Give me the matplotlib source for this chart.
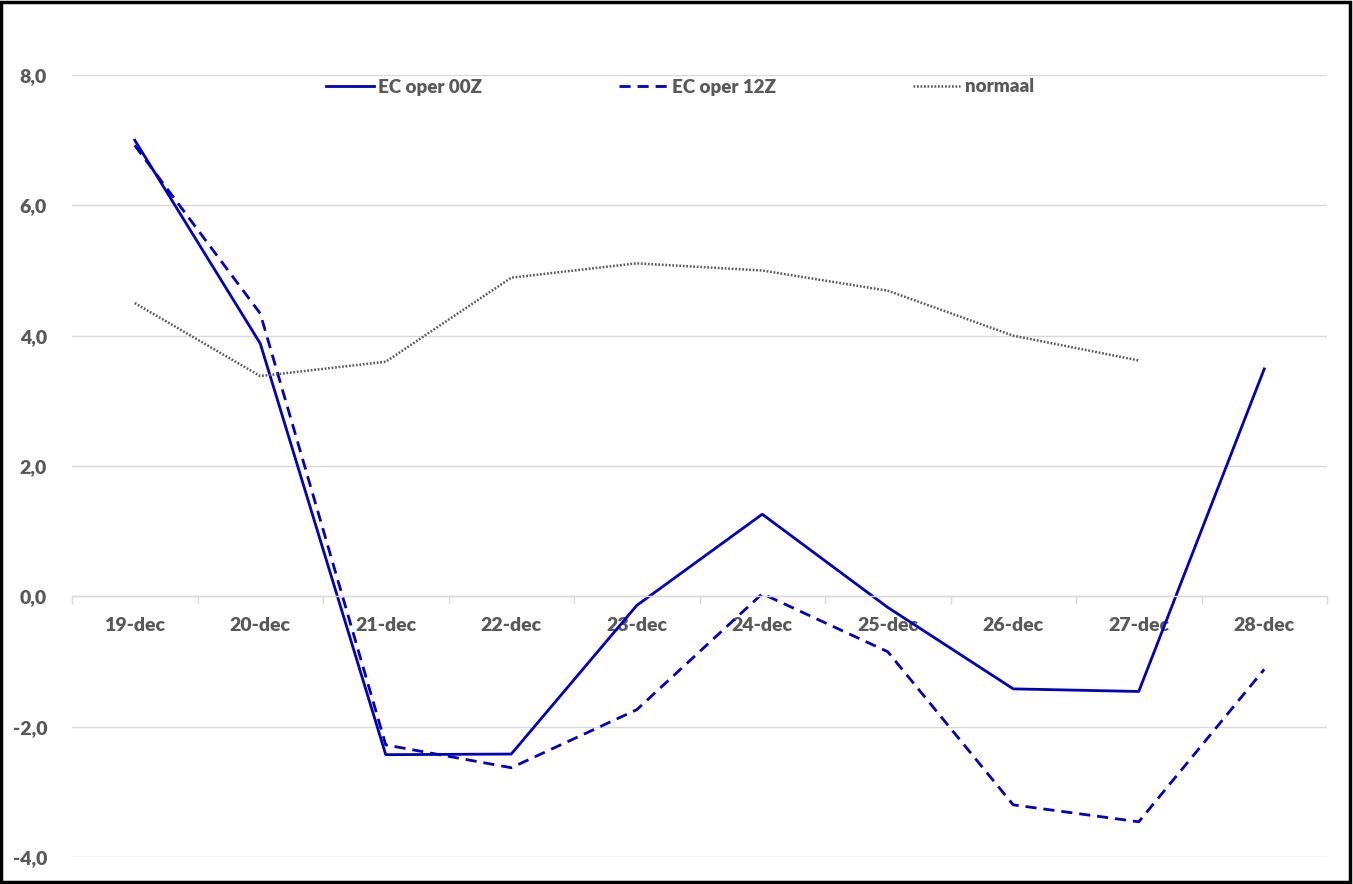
import numpy as np
import matplotlib.pyplot as plt
from matplotlib.patches import Rectangle
from matplotlib.ticker import FuncFormatter, FixedLocator

# Gegevens
dagen = ['19-dec', '20-dec', '21-dec', '22-dec', '23-dec',
         '24-dec', '25-dec', '26-dec', '27-dec', '28-dec']
ec_00z = [7.0, 3.88, -2.43, -2.42, -0.14, 1.26, -0.17, -1.42, -1.46, 3.49]
ec_12z = [6.92, 4.34, -2.28, -2.63, -1.74, 0.04, -0.85, -3.2, -3.46, -1.12]
normaal = [4.5, 3.38, 3.6, 4.89, 5.11, 5.0, 4.69, 4.0, 3.62, np.nan]

blauw = '#0000C0'
grijs = '#595959'
licht = '#D9D9D9'

plt.rcParams['font.family'] = ['Lato', 'DejaVu Sans']
plt.rcParams['font.weight'] = 'heavy'

fig = plt.figure(figsize=(13.53, 8.84), dpi=100)
ax = fig.add_axes([72/1353, 1-857/884, (1327-72)/1353, (857-75)/884])

x = np.arange(len(dagen))
ax.plot(x, ec_00z, color=blauw, lw=2.0, label='EC oper 00Z')
ax.plot(x, ec_12z, color=blauw, lw=2.0, ls=(0, (4, 2.5)), label='EC oper 12Z')
ax.plot(x, normaal, color=grijs, lw=1.8, ls=(0, (0.7, 0.7)), label='normaal')

ax.set_xlim(-0.5, len(dagen) - 0.5)
ax.set_ylim(-4, 8)
ax.set_yticks(np.arange(-4, 8.1, 2))
ax.yaxis.set_major_formatter(FuncFormatter(lambda v, p: f'{v:.1f}'.replace('.', ',')))
ax.grid(axis='y', color=licht, lw=1)
ax.set_axisbelow(True)

for s in ['top', 'right', 'left']:
    ax.spines[s].set_visible(False)
ax.spines['bottom'].set_position(('data', 0))
ax.spines['bottom'].set_color(licht)
ax.spines['bottom'].set_linewidth(1)

ax.set_xticks(x)
ax.set_xticklabels(dagen, fontweight='heavy')
ax.xaxis.set_minor_locator(FixedLocator(np.arange(-0.5, len(dagen), 1)))
ax.tick_params(axis='x', which='major', length=0, pad=15, labelsize=14, labelcolor=grijs)
ax.tick_params(axis='x', which='minor', length=6, color=licht, width=1)
ax.tick_params(axis='y', length=0, pad=18, labelsize=14, labelcolor=grijs)
for t in ax.get_yticklabels():
    t.set_fontweight('heavy')

leg = fig.legend(loc='center', bbox_to_anchor=(680/1353, 1-87/884), ncol=3, frameon=False,
                 prop={'size': 13.5, 'weight': 'heavy'},
                 handlelength=2.55, handletextpad=0.25, columnspacing=7.3)
for t in leg.get_texts():
    t.set_color(grijs)

fig.patches.append(Rectangle((0.001, 0.002), 0.997, 0.996, transform=fig.transFigure,
                             fill=False, edgecolor='black', lw=2.5))

fig.savefig('out.png', dpi=100)
